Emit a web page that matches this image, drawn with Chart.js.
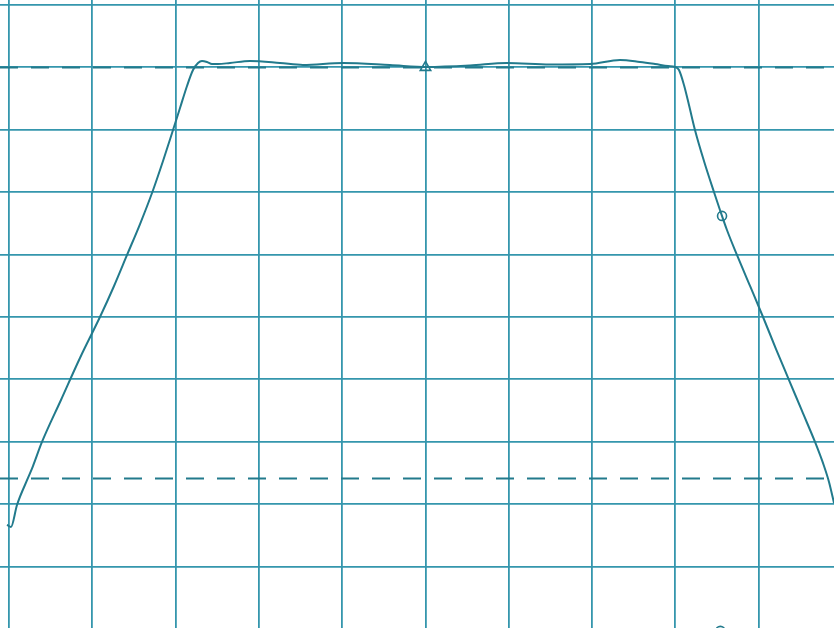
<!DOCTYPE html>
<html>
<head>
<meta charset="utf-8">
<script src="https://cdn.jsdelivr.net/npm/chart.js@4"></script>
<style>
  html, body { margin: 0; padding: 0; background: #fff; }
  #wrap { width: 834px; height: 628px; }
</style>
</head>
<body>
<div id="wrap"><canvas id="trace" width="834" height="628"></canvas></div>
<script>
// response trace (x, y in grid divisions)
const traceX = [-0.024, 0.024, 0.096, 0.228, 0.288, 0.396, 0.624, 0.852, 1.092, 1.261, 1.417, 1.573, 1.717, 1.849, 1.969, 2.053, 2.137, 2.209, 2.269, 2.317, 2.377, 2.437, 2.509, 2.653, 2.893, 3.253, 3.529, 4.010, 4.574, 5.018, 5.534, 5.978, 6.495, 6.975, 7.335, 7.575, 7.755, 7.911, 7.995, 8.043, 8.103, 8.163, 8.235, 8.343, 8.463, 8.535, 8.619, 8.739, 8.896, 9.052, 9.208, 9.364, 9.520, 9.676, 9.784, 9.844, 9.904];
const traceY = [1.667, 1.635, 1.987, 2.420, 2.612, 2.997, 3.670, 4.343, 5.0, 5.497, 5.994, 6.490, 6.987, 7.5, 7.997, 8.349, 8.702, 8.958, 9.071, 9.103, 9.087, 9.054, 9.054, 9.071, 9.103, 9.071, 9.038, 9.071, 9.038, 9.006, 9.030, 9.071, 9.046, 9.054, 9.119, 9.087, 9.054, 9.022, 9.006, 8.958, 8.718, 8.397, 7.997, 7.5, 7.003, 6.715, 6.394, 5.994, 5.497, 5.0, 4.487, 3.990, 3.494, 2.997, 2.612, 2.356, 2.019];

// dashed reference levels
const refLevels = [9.0, 2.41];

// markers on the trace
const triangleMarks = [{ x: 5.0, y: 9.0 }];
const circleMarks = [{ x: 8.56, y: 6.62 }, { x: 8.54, y: -0.03 }];

const xMin = -0.108, xMax = 9.904;
const yMin = 0.016, yMax = 10.08;

const gridColor = '#3596ad';
const inkColor = '#227a8c';

const tracePoints = traceX.map((x, i) => ({ x: x, y: traceY[i] }));

const refSets = refLevels.map(level => ({
    data: [{ x: xMin, y: level }, { x: xMax, y: level }],
    showLine: true,
    borderColor: inkColor,
    borderWidth: 2,
    borderDash: [18, 13],
    pointRadius: 0
}));

const axis = (min, max) => ({
    type: 'linear',
    min: min,
    max: max,
    ticks: { display: false, stepSize: 1, includeBounds: false },
    grid: { color: gridColor, lineWidth: 1.8, drawTicks: false },
    border: { display: false }
});

new Chart(document.getElementById('trace'), {
    type: 'scatter',
    data: {
        datasets: [
            ...refSets,
            {
                data: tracePoints,
                showLine: true,
                borderColor: inkColor,
                borderWidth: 2,
                cubicInterpolationMode: 'monotone',
                pointRadius: 0
            },
            {
                data: triangleMarks,
                pointStyle: 'triangle',
                pointRadius: 6,
                pointBorderWidth: 1.6,
                pointBorderColor: inkColor,
                pointBackgroundColor: 'rgba(0,0,0,0)'
            },
            {
                data: circleMarks,
                pointStyle: 'circle',
                pointRadius: 4.5,
                pointBorderWidth: 1.6,
                pointBorderColor: inkColor,
                pointBackgroundColor: 'rgba(0,0,0,0)'
            }
        ]
    },
    options: {
        responsive: false,
        animation: false,
        layout: { padding: 0, autoPadding: false },
        plugins: {
            legend: { display: false },
            tooltip: { enabled: false }
        },
        scales: {
            x: axis(xMin, xMax),
            y: axis(yMin, yMax)
        }
    }
});
</script>
</body>
</html>
